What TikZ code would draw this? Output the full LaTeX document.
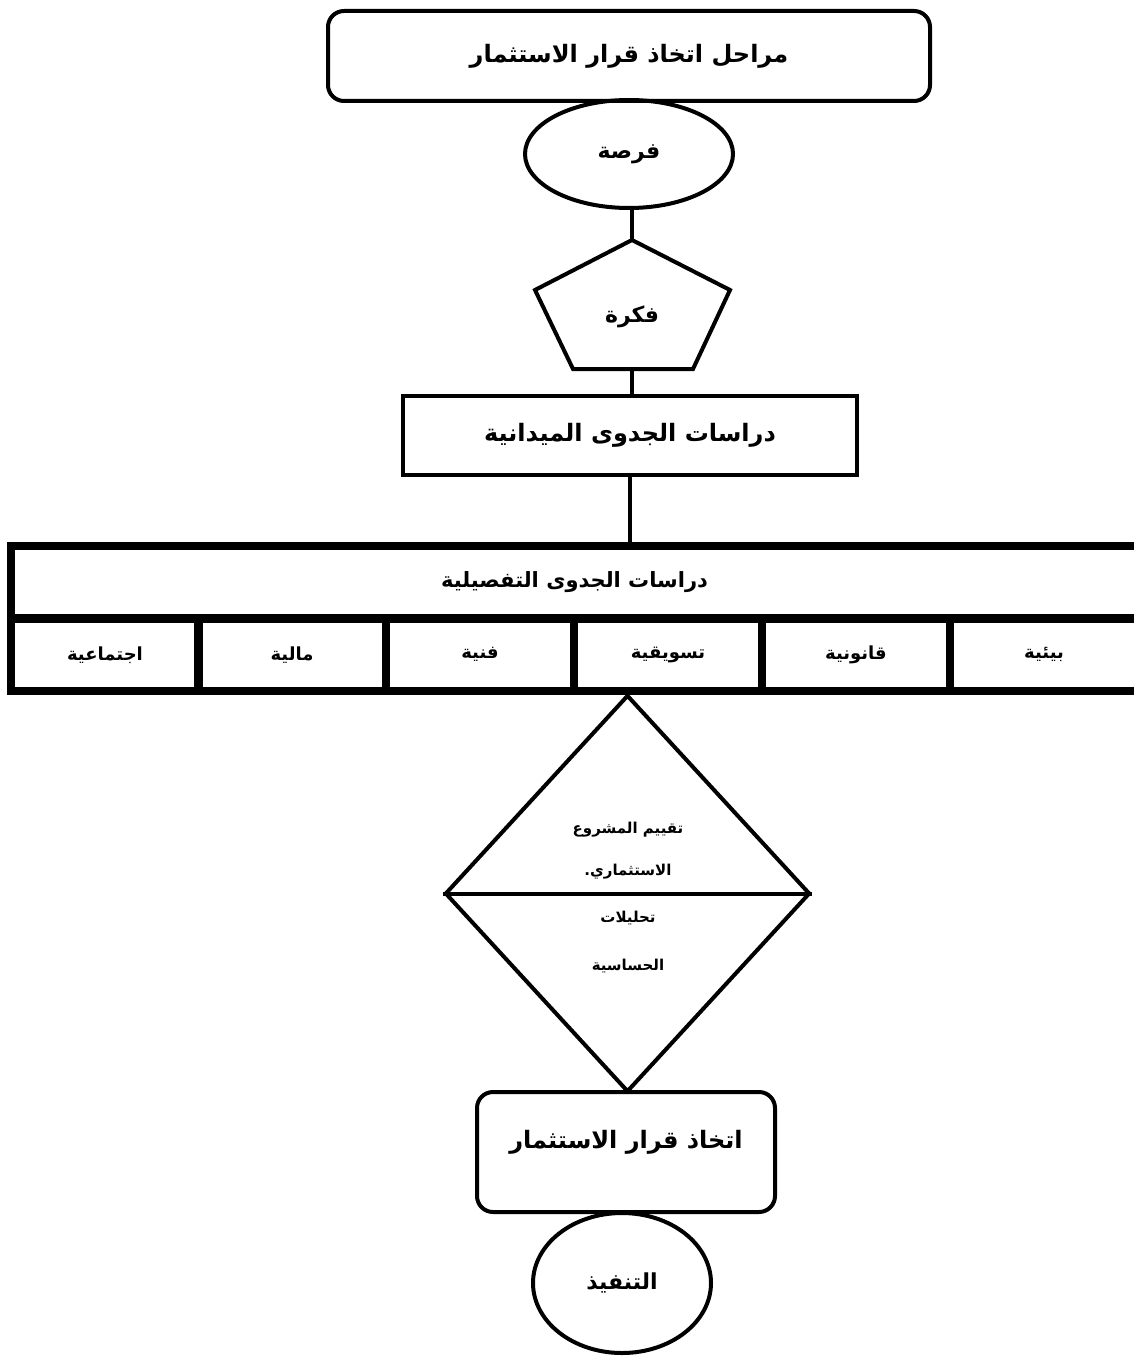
\documentclass[tikz,border=0pt]{standalone}
\usepackage{fontspec}
\usetikzlibrary{shapes.geometric}
\TeXXeTstate=1
\newfontfamily\arabicfont[Script=Arabic]{DejaVu Sans}
% right-to-left Arabic text in bold
\newcommand{\ar}[1]{{\arabicfont\bfseries\beginR #1\endR}}

\tikzset{
  outline/.style={draw, line width=4pt, inner sep=0pt},
  link/.style={line width=4pt},
  roundbox/.style={outline, rounded corners=16pt},
  oval/.style={outline, ellipse},
  cell/.style={draw, line width=8.5pt, inner sep=0pt, minimum height=72.5pt},
  bigtxt/.style={font=\fontsize{24}{28}\selectfont},
  shapetxt/.style={font=\fontsize{22}{26}\selectfont},
  midtxt/.style={font=\fontsize{21}{25}\selectfont},
  celltxt/.style={font=\fontsize{18}{22}\selectfont},
  smalltxt/.style={font=\fontsize{15}{19}\selectfont},
}

\begin{document}
\begin{tikzpicture}[x=1pt, y=-1pt]
\useasboundingbox (0,0) rectangle (1133,1356);

% heading
\node[roundbox, minimum width=602pt, minimum height=90pt, bigtxt] (title) at (629,56) {\ar{مراحل اتخاذ قرار الاستثمار}};

% opportunity
\node[oval, minimum width=208pt, minimum height=108pt, shapetxt] (chance) at (629,154) {\ar{فرصة}};

% idea (pentagon)
\coordinate (p1) at (632,240);
\coordinate (p2) at (730,290);
\coordinate (p3) at (693,369);
\coordinate (p4) at (573,369);
\coordinate (p5) at (535,290);
\coordinate (pb) at (632,369);
\draw[link, line join=miter] (p1) -- (p2) -- (p3) -- (p4) -- (p5) -- cycle;
\node[shapetxt] (idea) at (632,317) {\ar{فكرة}};
\draw[link] (p1 |- chance.south) -- (p1);

% field feasibility studies
\node[outline, minimum width=454pt, minimum height=79pt, bigtxt] (field) at (630,435.5) {\ar{دراسات الجدوى الميدانية}};
\draw[link] (pb) -- (pb |- field.north);

% detailed feasibility studies table
\node[cell, minimum width=1127pt, midtxt] (detail) at (574.5,582.25) {\ar{دراسات الجدوى التفصيلية}};
\draw[link] (field.south) -- (field.south |- detail.north);
\node[cell, minimum width=188pt, celltxt] (c1) at (1044,654.75) {\ar{بيئية}};
\node[cell, minimum width=188pt, celltxt] (c2) at (856,654.75) {\ar{قانونية}};
\node[cell, minimum width=188pt, celltxt] (c3) at (668,654.75) {\ar{تسويقية}};
\node[cell, minimum width=188pt, celltxt] (c4) at (480,654.75) {\ar{فنية}};
\node[cell, minimum width=188pt, celltxt] (c5) at (292,654.75) {\ar{مالية}};
\node[cell, minimum width=188pt, celltxt] (c6) at (105,654.75) {\ar{اجتماعية}};

% evaluation diamond
\node[outline, diamond, minimum width=365pt, minimum height=397pt] (assess) at (627.5,893.5) {};
\draw[link] (assess.west) -- (assess.east);
\node[smalltxt] (a1) at (628,830) {\ar{تقييم المشروع}};
\node[smalltxt] (a2) at (628,872) {\ar{الاستثماري.}};
\node[smalltxt] (a3) at (628,918) {\ar{تحليلات}};
\node[smalltxt] (a4) at (628,966) {\ar{الحساسية}};

% investment decision
\node[roundbox, minimum width=298pt, minimum height=120pt] (decide) at (626,1152) {};
\node[bigtxt] (decidetext) at (626,1142) {\ar{اتخاذ قرار الاستثمار}};

% execution
\node[oval, minimum width=178pt, minimum height=140pt, shapetxt] (exec) at (622,1283) {\ar{التنفيذ}};
\end{tikzpicture}
\end{document}
